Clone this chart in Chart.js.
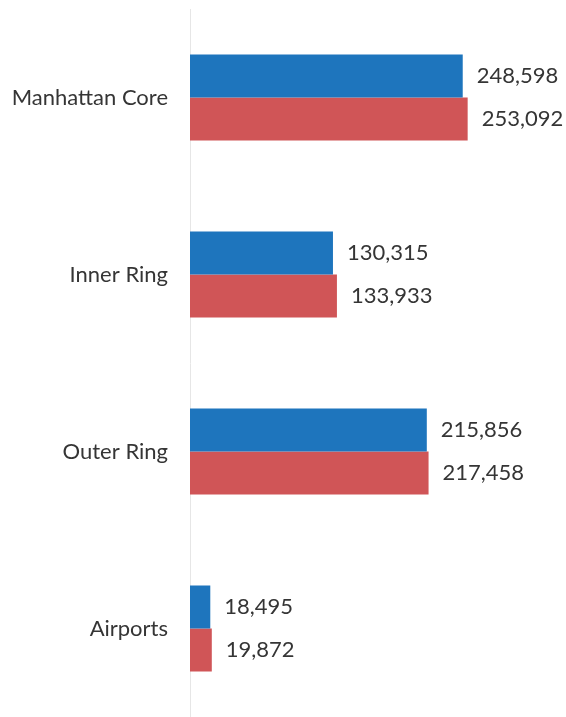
<!DOCTYPE html>
<html>
<head>
<meta charset="utf-8">
<script src="https://cdn.jsdelivr.net/npm/chart.js@4/dist/chart.umd.min.js"></script>
<style>
  html, body { margin: 0; padding: 0; background: #ffffff; }
  .chart-container { width: 566px; height: 717px; position: relative; }
</style>
</head>
<body>
<div class="chart-container"><canvas id="chart"></canvas></div>
<script>
const categories = ["Manhattan Core", "Inner Ring", "Outer Ring", "Airports"];
const seriesBlue = [248598, 130315, 215856, 18495];
const seriesRed = [253092, 133933, 217458, 19872];
const xMax = 340000;

const textColor = "#353535";
const fontFamily = "Lato, 'Open Sans', sans-serif";

// value labels to the right of every bar
const valueLabels = {
  id: "valueLabels",
  afterDatasetsDraw(chart) {
    const ctx = chart.ctx;
    ctx.save();
    ctx.font = "22px " + fontFamily;
    ctx.fillStyle = textColor;
    ctx.textAlign = "left";
    ctx.textBaseline = "middle";
    chart.data.datasets.forEach((dataset, i) => {
      chart.getDatasetMeta(i).data.forEach((bar, index) => {
        const value = dataset.data[index];
        ctx.fillText(value.toLocaleString("en-US"), bar.x + 14, bar.y);
      });
    });
    ctx.restore();
  },
};

new Chart(document.getElementById("chart").getContext("2d"), {
  type: "bar",
  data: {
    labels: categories,
    datasets: [
      {
        label: "Series 1",
        data: seriesBlue,
        backgroundColor: "rgb(30,117,189)",
        borderWidth: 0,
        categoryPercentage: 0.485,
        barPercentage: 1,
      },
      {
        label: "Series 2",
        data: seriesRed,
        backgroundColor: "rgb(208,85,87)",
        borderWidth: 0,
        categoryPercentage: 0.485,
        barPercentage: 1,
      },
    ],
  },
  options: {
    indexAxis: "y",
    responsive: true,
    maintainAspectRatio: false,
    animation: false,
    layout: { padding: { top: 9, right: 3, bottom: 0, left: 0 } },
    plugins: {
      legend: { display: false },
      tooltip: { enabled: false },
    },
    scales: {
      x: {
        display: false,
        min: 0,
        max: xMax,
      },
      y: {
        afterFit: (scale) => {
          scale.width = 190;
          scale.paddingTop = 0;
          scale.paddingBottom = 0;
        },
        grid: { display: false },
        border: { display: true, color: "#e6e6e6", width: 1 },
        ticks: {
          color: textColor,
          padding: 14,
          font: { family: fontFamily, size: 22 },
        },
      },
    },
  },
  plugins: [valueLabels],
});
</script>
</body>
</html>
